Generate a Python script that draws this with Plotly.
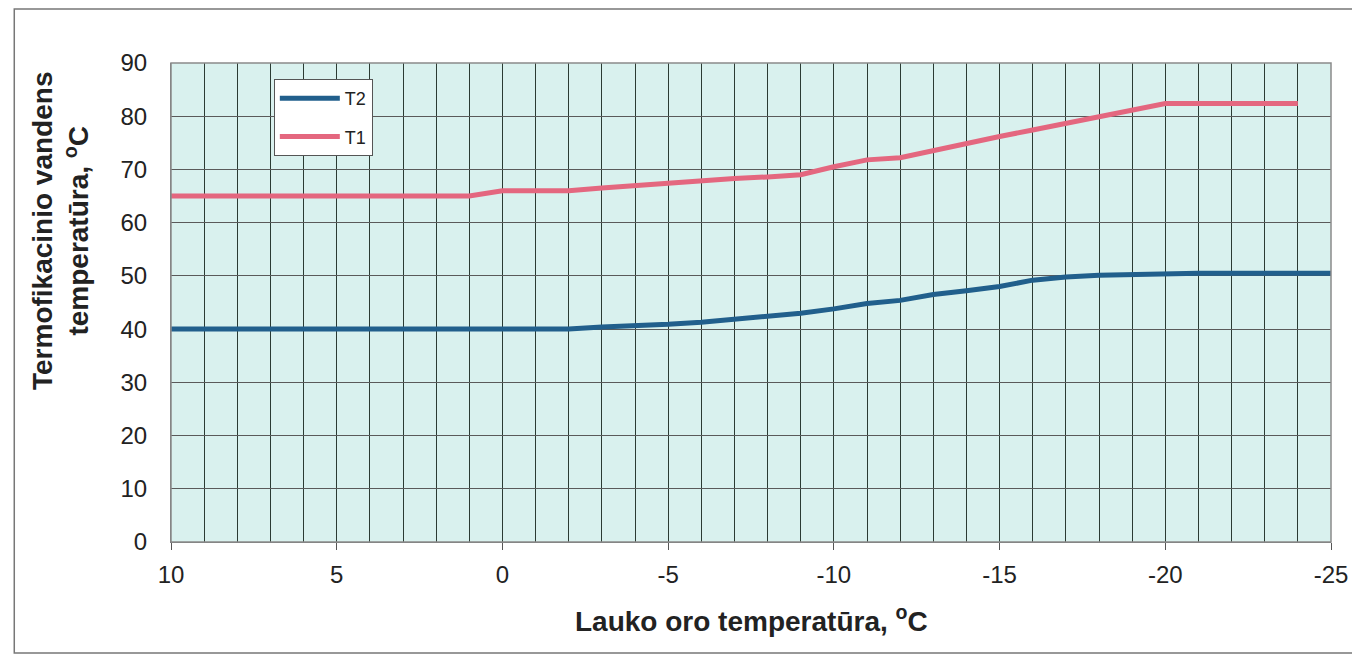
import plotly.graph_objects as go

# Outdoor temperature (x) values
x_t2 = [10, 9, 8, 7, 6, 5, 4, 3, 2, 1, 0, -1, -2, -3, -4, -5, -6, -7, -8, -9, -10,
        -11, -12, -13, -14, -15, -16, -17, -18, -19, -20, -21, -22, -23, -24, -25]
t2 = [40, 40, 40, 40, 40, 40, 40, 40, 40, 40, 40, 40, 40, 40.4, 40.6, 40.9, 41.3, 41.8,
      42.3, 43.0, 43.8, 44.8, 45.4, 46.5, 47.2, 48.0, 49.2, 49.8, 50.1, 50.3, 50.5,
      50.5, 50.5, 50.5, 50.5, 50.5]

x_t1 = [10, 9, 8, 7, 6, 5, 4, 3, 2, 1, 0, -1, -2, -3, -4, -5, -6, -7, -8, -9, -10,
        -11, -12, -13, -14, -15, -16, -17, -18, -19, -20, -21, -22, -23, -24]
t1 = [65, 65, 65, 65, 65, 65, 65, 65, 65, 65, 66, 66, 66, 66.5, 67.0, 67.3, 67.8, 68.3,
      68.6, 69.0, 70.5, 71.8, 72.2, 73.6, 75.0, 76.2, 77.4, 78.7, 80.0, 81.2, 82.4,
      82.4, 82.4, 82.4, 82.4]

x_ticks = [10, 5, 0, -5, -10, -15, -20, -25]
y_ticks = [0, 10, 20, 30, 40, 50, 60, 70, 80, 90]

x_title = "Lauko oro temperatūra, <sup>o</sup>C"
y_title_lines = ["Termofikacinio vandens", "temperatūra, <sup>o</sup>C"]

W, H = 1352, 647
L, R, T, B = 163, 27, 55, 113
PW, PH = W - L - R, H - T - B

fig = go.Figure()
fig.add_trace(go.Scatter(x=x_t2, y=t2, mode="lines", name="T2", legendgroup="a",
                         line=dict(color="#215f8c", width=5)))
fig.add_trace(go.Scatter(x=x_t1, y=t1, mode="lines", name="T1", legendgroup="b",
                         line=dict(color="#e4677f", width=5)))

font_family = "Liberation Sans, Arial, sans-serif"

fig.update_layout(
    width=W, height=H, autosize=False,
    margin=dict(l=L, r=R, t=T, b=B),
    paper_bgcolor="white",
    plot_bgcolor="#d9f1ee",
    font=dict(family=font_family, size=24, color="#222222"),
    showlegend=True,
    legend=dict(x=(266 - L) / PW, y=(T + PH - 71) / PH, xanchor="left", yanchor="top",
                bgcolor="white", bordercolor="#555555", borderwidth=1,
                font=dict(size=18, color="#222222"), tracegroupgap=12,
                itemwidth=60, entrywidth=105, entrywidthmode="pixels"),
    xaxis=dict(range=[10, -25], tickvals=x_ticks, ticktext=[str(v) for v in x_ticks],
               showgrid=True, gridcolor="#2b3b33", gridwidth=1,
               minor=dict(dtick=1, showgrid=True, gridcolor="#2b3b33", gridwidth=1),
               ticks="outside", ticklen=7, tickcolor="#555555",
               showline=True, linecolor="#777777", linewidth=1,
               zeroline=False, tickfont=dict(size=24), ticklabelstandoff=4),
    yaxis=dict(range=[0, 90], tickvals=y_ticks, showgrid=True, gridcolor="#5a5a5a",
               gridwidth=1, zeroline=False, showline=True, linecolor="#777777",
               ticks="", tickfont=dict(size=24), ticklabelstandoff=18),
)

# Plot area border
fig.add_shape(type="rect", xref="paper", yref="paper", x0=0, y0=0, x1=1, y1=1,
              line=dict(color="#8a8a8a", width=1.5), fillcolor="rgba(0,0,0,0)")
# Outer frame
fig.add_shape(type="rect", xref="paper", yref="paper",
              x0=(6 - L) / PW, x1=(1400 - L) / PW,
              y0=(T + PH - 645) / PH, y1=(T + PH - 1) / PH,
              line=dict(color="#777777", width=1.5), fillcolor="rgba(0,0,0,0)")

fig.add_annotation(text="<br>".join("<b>" + s + "</b>" for s in y_title_lines),
                   xref="paper", yref="paper", x=0, y=(534 - 223) / PH,
                   xanchor="center", yanchor="middle", xshift=-(171 - 60),
                   textangle=-90, showarrow=False,
                   font=dict(size=28, color="#222222"))

fig.add_annotation(text="<b>" + x_title + "</b>", xref="paper", yref="paper",
                   x=0.5, y=0, xanchor="center", yanchor="middle", yshift=-77,
                   showarrow=False, font=dict(size=28, color="#222222"))

fig.write_html("out.html")
